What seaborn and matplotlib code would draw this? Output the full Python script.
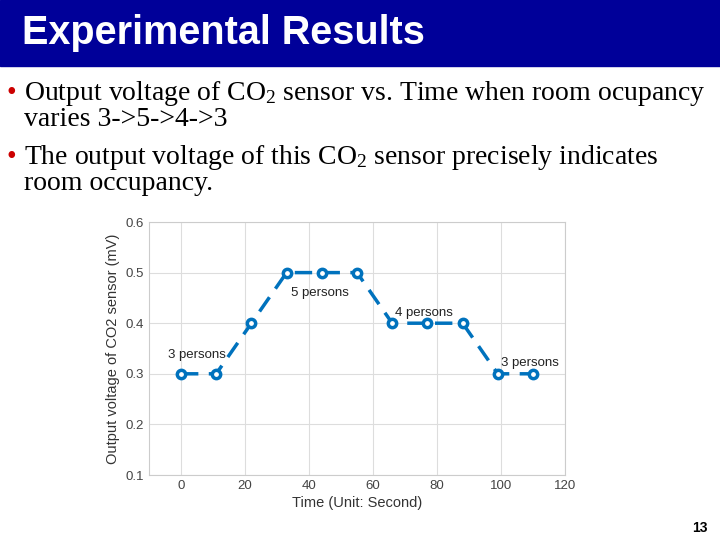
import matplotlib
matplotlib.use("Agg")
import matplotlib.pyplot as plt
import seaborn as sns
import pandas as pd

serif = "Liberation Serif"
plt.rcParams["mathtext.fontset"] = "custom"
plt.rcParams["mathtext.rm"] = serif
plt.rcParams["mathtext.default"] = "rm"
plt.rcParams["font.family"] = "Liberation Sans"

time_s = [0, 11, 22, 33, 44, 55, 66, 77, 88, 99, 110]
voltage = [0.3, 0.3, 0.4, 0.5, 0.5, 0.5, 0.4, 0.4, 0.4, 0.3, 0.3]
xticks = [0, 20, 40, 60, 80, 100, 120]
yticks = [0.1, 0.2, 0.3, 0.4, 0.5, 0.6]
annotations = [("3 persons", -4, 0.332), ("5 persons", 34.5, 0.454), ("4 persons", 67, 0.415), ("3 persons", 100, 0.315)]

df = pd.DataFrame({"t": time_s, "v": voltage})
fig = plt.figure(figsize=(7.2, 5.4), dpi=100)

fig.patches.append(plt.Rectangle((0, 1 - 66/540), 1, 66/540, transform=fig.transFigure, color="#000099", zorder=0))
fig.text(22/720, 1 - 33/540, "Experimental Results", color="white", fontsize=28.5, fontweight="bold",
         family="Liberation Sans", va="center")

fs = 20
fig.text(6/720, 1 - 94/540, "•", color="#cc0000", fontsize=fs, family=serif, va="center")
fig.text(24/720, 1 - 94/540, "Output voltage of CO$_2$ sensor vs. Time when room ocupancy", fontsize=fs, family=serif, va="center")
fig.text(24/720, 1 - 119/540, "varies 3->5->4->3", fontsize=fs, family=serif, va="center")
fig.text(6/720, 1 - 158/540, "•", color="#cc0000", fontsize=fs, family=serif, va="center")
fig.text(24/720, 1 - 158/540, "The output voltage of this CO$_2$ sensor precisely indicates", fontsize=fs, family=serif, va="center")
fig.text(24/720, 1 - 184/540, "room occupancy.", fontsize=fs, family=serif, va="center")

ax = fig.add_axes([149/720, 65/540, 416/720, 253/540])
sns.lineplot(data=df, x="t", y="v", ax=ax, color="#0072BD", linestyle=(0, (5, 3)), linewidth=2.5,
             marker="o", markersize=6, markerfacecolor="white", markeredgecolor="#0072BD", markeredgewidth=2.5)
ax.set_xlim(-10, 120)
ax.set_ylim(0.1, 0.6)
ax.set_xticks(xticks)
ax.set_yticks(yticks)
ax.set_yticklabels([f"{v:.1f}" for v in yticks])
ax.grid(True, color="#dddddd", linewidth=0.8)
for s in ax.spines.values():
    s.set_color("#cccccc")
ax.tick_params(labelsize=9.5, colors="#444444", length=0)
ax.set_xlabel("Time (Unit: Second)", fontsize=10.5, color="#333333", labelpad=3)
ax.set_ylabel("Output voltage of CO2 sensor (mV)", fontsize=10.5, color="#333333")
for txt, x, y in annotations:
    ax.text(x, y, txt, fontsize=9.5, color="#222222")

fig.text(708/720, 1 - 528/540, "13", fontsize=10, fontweight="bold", ha="right", va="center", family="Liberation Sans")
fig.savefig("out.png", dpi=100)
